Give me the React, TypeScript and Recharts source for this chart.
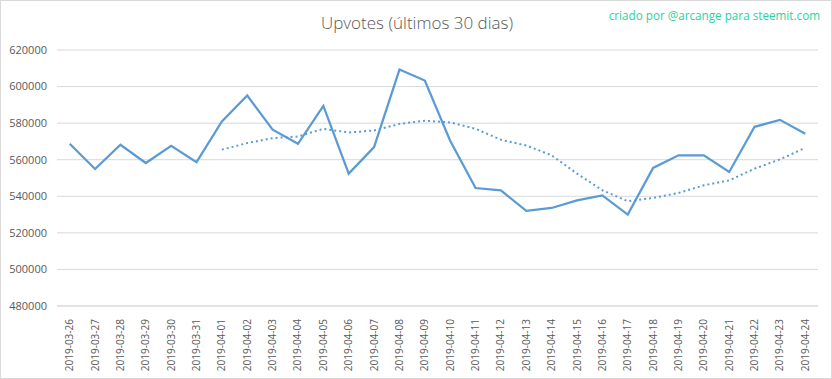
import React from "react";
import { LineChart, Line, XAxis, YAxis, CartesianGrid } from "recharts";

// dates (last 30 days)
const dates = [
  "2019-03-26", "2019-03-27", "2019-03-28", "2019-03-29", "2019-03-30", "2019-03-31",
  "2019-04-01", "2019-04-02", "2019-04-03", "2019-04-04", "2019-04-05", "2019-04-06",
  "2019-04-07", "2019-04-08", "2019-04-09", "2019-04-10", "2019-04-11", "2019-04-12",
  "2019-04-13", "2019-04-14", "2019-04-15", "2019-04-16", "2019-04-17", "2019-04-18",
  "2019-04-19", "2019-04-20", "2019-04-21", "2019-04-22", "2019-04-23", "2019-04-24",
];

const upvotes = [
  568700, 554900, 568200, 558200, 567600, 558700,
  580900, 595100, 576400, 568700, 589400, 552400,
  566900, 609300, 603300, 570400, 544500, 543200,
  532000, 533600, 537800, 540500, 530000, 555500,
  562400, 562400, 553300, 578000, 581800, 574200,
];

// trend line, starts on 2019-04-01
const trend = [
  null, null, null, null, null, null,
  565500, 569100, 571800, 572700, 576900, 574900,
  576000, 579600, 581300, 580400, 576900, 570900,
  567800, 562400, 552400, 543300, 537300, 539100,
  541800, 546000, 548700, 555100, 560200, 566500,
];

const yTicks = [480000, 500000, 520000, 540000, 560000, 580000, 600000, 620000];

const data = dates.map((d, i) => ({ date: d, upvotes: upvotes[i], trend: trend[i] }));

const font = "'Open Sans', sans-serif";

const DateTick = (props: any) => {
  const { x, y, payload } = props;
  return (
    <text
      transform={`translate(${x},${y + 5}) rotate(-90)`}
      textAnchor="end"
      dy="0.35em"
      fontSize={10}
      fill="#595959"
      fontFamily={font}
    >
      {payload.value}
    </text>
  );
};

export default function App() {
  const W = 832;
  const H = 379;
  return (
    <div
      style={{
        position: "relative",
        width: W,
        height: H,
        boxSizing: "border-box",
        border: "1px solid #d9d9d9",
        background: "#fff",
        fontFamily: font,
      }}
    >
      <style>{"body{margin:0}"}</style>
      <div
        style={{
          position: "absolute",
          top: 10,
          left: 0,
          width: W,
          textAlign: "center",
          fontSize: 17,
          fontWeight: 300,
          color: "#595959",
        }}
      >
        Upvotes (últimos 30 dias)
      </div>
      <div
        style={{
          position: "absolute",
          top: 6,
          right: 11,
          fontSize: 11.7,
          color: "#2dd09f",
        }}
      >
        criado por @arcange para steemit.com
      </div>
      <div style={{ position: "absolute", left: -1, top: -1 }}>
        <LineChart
          width={W}
          height={H}
          data={data}
          margin={{ top: 50, right: 14, bottom: 0, left: 0 }}
        >
          <CartesianGrid vertical={false} stroke="#d9d9d9" />
          <XAxis
            dataKey="date"
            interval={0}
            height={73}
            tick={<DateTick />}
            tickLine={false}
            axisLine={{ stroke: "#d9d9d9" }}
            padding={{ left: 12.7, right: 12.7 }}
          />
          <YAxis
            width={57}
            domain={[480000, 620000]}
            ticks={yTicks}
            tickLine={false}
            axisLine={false}
            tickMargin={4}
            tick={{ fontSize: 11, fill: "#595959", fontFamily: font }}
          />
          <Line
            type="linear"
            dataKey="upvotes"
            stroke="#5b9bd5"
            strokeWidth={2.25}
            dot={false}
            isAnimationActive={false}
          />
          <Line
            type="linear"
            dataKey="trend"
            stroke="#5b9bd5"
            strokeWidth={2}
            strokeDasharray="2 3"
            dot={false}
            connectNulls={false}
            isAnimationActive={false}
          />
        </LineChart>
      </div>
    </div>
  );
}
